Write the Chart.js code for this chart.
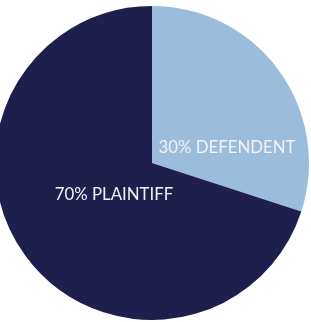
<!DOCTYPE html>
<html>
<head>
<meta charset="utf-8">
<script src="https://cdn.jsdelivr.net/npm/chart.js@4"></script>
<style>
  html, body { margin: 0; padding: 0; background: #ffffff; overflow: hidden; }
  body { width: 311px; height: 322px; position: relative; }
  #wrap { position: absolute; left: -5px; top: 6px; width: 314px; height: 314px; }
</style>
</head>
<body>
<div id="wrap"><canvas id="pie"></canvas></div>
<script>
const labels = ["DEFENDENT", "PLAINTIFF"];
const shares = [30, 70];
const colors = ["#9bbcdb", "#1f1f4d"];

// text offsets from pie centre for each slice label
const labelOffsets = [[75, -15], [-38, 32]];

const sliceLabels = {
  id: "sliceLabels",
  afterDatasetsDraw(chart) {
    const { ctx } = chart;
    const meta = chart.getDatasetMeta(0);
    ctx.save();
    ctx.font = "400 16.8px Lato";
    ctx.fillStyle = "#f2f2f6";
    ctx.textAlign = "center";
    ctx.textBaseline = "middle";
    meta.data.forEach((arc, i) => {
      const [dx, dy] = labelOffsets[i];
      ctx.fillText(`${shares[i]}% ${labels[i]}`, arc.x + dx, arc.y + dy);
    });
    ctx.restore();
  }
};

new Chart(document.getElementById("pie"), {
  type: "pie",
  data: {
    labels: labels,
    datasets: [{
      data: shares,
      backgroundColor: colors,
      borderWidth: 0
    }]
  },
  options: {
    responsive: true,
    maintainAspectRatio: false,
    animation: false,
    layout: { padding: 0 },
    plugins: {
      legend: { display: false },
      tooltip: { enabled: false }
    }
  },
  plugins: [sliceLabels]
});
</script>
</body>
</html>
